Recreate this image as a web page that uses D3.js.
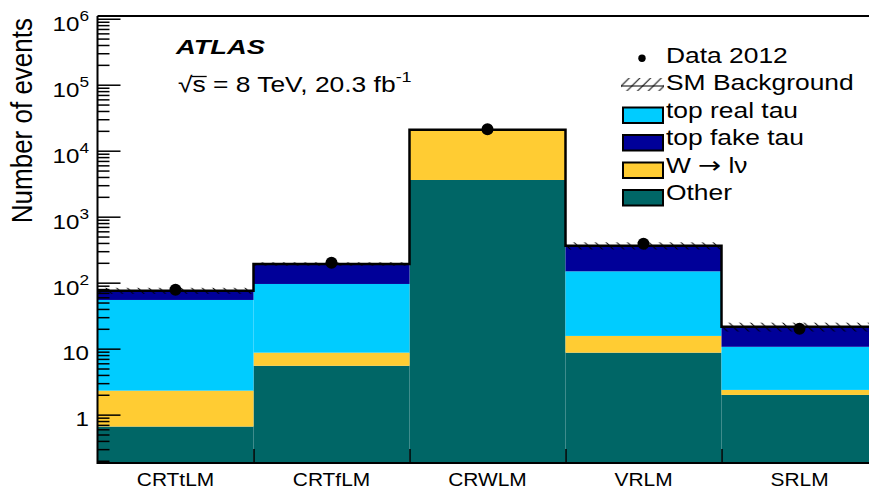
<!DOCTYPE html>
<html>
<head>
<meta charset="utf-8">
<script src="https://cdn.jsdelivr.net/npm/d3@7"></script>
<style>
  html, body { margin: 0; padding: 0; background: #ffffff; }
  svg { display: block; }
  text { font-family: "Liberation Sans", Arial, Helvetica, sans-serif; fill: #000; }
</style>
</head>
<body>
<svg id="chart" width="869" height="493"></svg>
<script>
// regions and stacked background components (events per region)
const categories = ["CRTtLM", "CRTfLM", "CRWLM", "VRLM", "SRLM"];
const otherVals = [0.66, 5.5, 3600, 8.7, 1.99];
const wlnuVals = [1.65, 3.2, 17000, 6.9, 0.38];
const topRealVals = [52.4, 86.9, 60, 133, 8.3];
const topFakeVals = [20.9, 96.4, 30, 215, 10.8];
const dataVals = [78, 200, 21100, 388, 20];
const bkgErr = [8, 12, 400, 45, 3.3];

const yMajorTicks = [1, 10, 100, 1e3, 1e4, 1e5, 1e6];
const yTickBase = ["1", "10", "10", "10", "10", "10", "10"];
const yTickExp = ["", "", "2", "3", "4", "5", "6"];

const stackKeys = ["other", "wlnu", "topReal", "topFake"];
const stackColors = { other: "#006666", wlnu: "#ffcc33", topReal: "#00ccff", topFake: "#000099" };

const legendLabels = ["top real tau", "top fake tau", "W \u2192 l\u03bd", "Other"];
const legendKeys = ["topReal", "topFake", "wlnu", "other"];

const table = categories.map((c, i) => ({
    region: c,
    other: otherVals[i],
    wlnu: wlnuVals[i],
    topReal: topRealVals[i],
    topFake: topFakeVals[i],
    data: dataVals[i],
    err: bkgErr[i]
}));
table.forEach(d => d.total = d.other + d.wlnu + d.topReal + d.topFake);

const pLeft = 97.5, pRight = 877.5, pTop = 16, pBottom = 463;

const svg = d3.select("#chart");

const x = d3.scaleBand().domain(categories).range([pLeft, pRight]).padding(0);
const xEdge = d3.scaleLinear().domain([0, categories.length]).range([pLeft, pRight]);
const y = d3.scaleLog().domain([0.185, 1.1e6]).range([pBottom, pTop]).clamp(true);

const defs = svg.append("defs");
defs.append("clipPath").attr("id", "plotClip")
    .append("rect").attr("x", pLeft).attr("y", pTop).attr("width", pRight - pLeft).attr("height", pBottom - pTop);

const hatch = defs.append("pattern")
    .attr("id", "hatch")
    .attr("patternUnits", "userSpaceOnUse")
    .attr("width", 10.7).attr("height", 10.7);
hatch.append("path")
    .attr("d", "M0,0 L10.7,10.7 M-2,8.7 L2,12.7 M8.7,-2 L12.7,2")
    .attr("stroke", "#000").attr("stroke-width", 1);

// helper: horizontally stretched text, like the original rendering
function addText(parent, px, py, str, size, sx, anchor, weight, style) {
    return parent.append("text")
        .attr("transform", `translate(${px},${py}) scale(${sx},1)`)
        .attr("text-anchor", anchor || "start")
        .attr("font-size", size + "px")
        .attr("font-weight", weight || "normal")
        .attr("font-style", style || "normal")
        .text(str);
}

const plot = svg.append("g").attr("clip-path", "url(#plotClip)");

// stacked fills
const series = d3.stack().keys(stackKeys)(table);
plot.selectAll("g.layer")
    .data(series)
    .enter()
    .append("g")
    .attr("class", "layer")
    .attr("fill", s => stackColors[s.key])
    .selectAll("rect")
    .data(s => s)
    .enter()
    .append("rect")
    .attr("x", d => x(d.data.region))
    .attr("width", x.bandwidth())
    .attr("y", d => y(d[1]))
    .attr("height", d => (d[0] > 0 ? y(d[0]) : pBottom) - y(d[1]));

// SM background uncertainty band
plot.selectAll(".band")
    .data(table)
    .enter()
    .append("rect")
    .attr("class", "band")
    .attr("x", d => x(d.region))
    .attr("width", x.bandwidth())
    .attr("y", d => y(d.total + d.err))
    .attr("height", d => y(d.total - d.err) - y(d.total + d.err))
    .attr("fill", "url(#hatch)");

// total outline
const stepPts = table.map((d, i) => [xEdge(i), y(d.total)]);
stepPts.push([xEdge(table.length), y(table[table.length - 1].total)]);
plot.append("path")
    .attr("d", d3.line().curve(d3.curveStepAfter)(stepPts))
    .attr("fill", "none")
    .attr("stroke", "#000")
    .attr("stroke-width", 2.5);

// data points
svg.selectAll(".dataPt")
    .data(table)
    .enter()
    .append("circle")
    .attr("class", "dataPt")
    .attr("cx", d => x(d.region) + x.bandwidth() / 2)
    .attr("cy", d => y(d.data))
    .attr("r", 6)
    .attr("fill", "#000");

// y axis with major and minor ticks
const minorTicks = [];
for (let k = -1; k <= 5; k++) {
    for (let m = 2; m <= 9; m++) {
        const v = m * Math.pow(10, k);
        if (v >= 0.185 && v <= 1.1e6) minorTicks.push(v);
    }
}
const yAxisG = svg.append("g").attr("transform", `translate(${pLeft},0)`);
yAxisG.append("g")
    .call(d3.axisRight(y).tickValues(minorTicks).tickSize(12).tickFormat(""))
    .call(g => g.select(".domain").remove());
yAxisG.append("g")
    .call(d3.axisRight(y).tickValues(yMajorTicks).tickSize(23).tickFormat(""))
    .call(g => g.select(".domain").remove());
yAxisG.selectAll("line").attr("stroke", "#000").attr("stroke-width", 1.5);

yMajorTicks.forEach((v, i) => {
    const hasExp = yTickExp[i] !== "";
    const t = addText(svg, 89, y(v) + (hasExp ? 12.5 : 11.5), "", 21, 1.15, "end");
    t.append("tspan").text(yTickBase[i]);
    if (hasExp) {
        t.append("tspan").attr("font-size", "15px").attr("dy", -10.5).text(yTickExp[i]);
    }
});

// x axis ticks at region boundaries
const xAxisG = svg.append("g").attr("transform", `translate(0,${pBottom})`);
xAxisG.call(d3.axisTop(xEdge).tickValues(d3.range(1, categories.length)).tickSize(14).tickFormat(""))
    .call(g => g.select(".domain").remove());
xAxisG.selectAll("line").attr("stroke", "#000").attr("stroke-width", 1.5);

categories.forEach(c => {
    addText(svg, x(c) + x.bandwidth() / 2, 486, c, 19, 1.1, "middle");
});

// frame
svg.append("path")
    .attr("d", `M${pLeft},${pTop} H${pRight} M${pLeft},${pTop} V${pBottom} H${pRight}`)
    .attr("fill", "none")
    .attr("stroke", "#000")
    .attr("stroke-width", 2);

// y axis title
svg.append("text")
    .attr("transform", "translate(32,18) rotate(-90) scale(1,1.1)")
    .attr("text-anchor", "end")
    .attr("font-size", "26px")
    .text("Number of events");

// ATLAS label
addText(svg, 176, 54.3, "ATLAS", 21, 1.3, "start", "bold", "italic");

const lumiSx = 1.2;
const lumi = addText(svg, 178, 91.7, "", 22, lumiSx, "start");
lumi.append("tspan").text("\u221as = 8 TeV, 20.3 fb");
lumi.append("tspan").attr("font-size", "15px").attr("dy", -9.5).text("-1");
const lumiNode = lumi.node();
const sStart = lumiNode.getSubStringLength(0, 1);
const sWidth = lumiNode.getSubStringLength(1, 1);
svg.append("line")
    .attr("x1", 178 + sStart * lumiSx - 1)
    .attr("x2", 178 + (sStart + sWidth) * lumiSx + 1)
    .attr("y1", 76.5).attr("y2", 76.5)
    .attr("stroke", "#000").attr("stroke-width", 1.3);

// legend
const legX = 666, legBase = [62.7, 90, 117.5, 145, 172.5, 200];
const legSize = 22, legSx = 1.2;
const leg = svg.append("g");
leg.append("circle").attr("cx", 642).attr("cy", 58.3).attr("r", 3.7).attr("fill", "#000");
addText(leg, legX, legBase[0], "Data 2012", legSize, legSx);

leg.append("rect")
    .attr("x", 621).attr("y", legBase[1] - 12).attr("width", 43).attr("height", 13)
    .attr("fill", "url(#hatch)")
    .attr("transform", `scale(-1,1) translate(${-(2 * 642.5)},0)`);
leg.append("line")
    .attr("x1", 621).attr("x2", 664).attr("y1", legBase[1] - 4).attr("y2", legBase[1] - 4)
    .attr("stroke", "#000").attr("stroke-width", 1.2);
addText(leg, legX, legBase[1], "SM Background", legSize, legSx);

legendKeys.forEach((k, i) => {
    const b = legBase[i + 2];
    leg.append("rect")
        .attr("x", 623).attr("y", b - 10).attr("width", 40).attr("height", 15.5)
        .attr("fill", stackColors[k])
        .attr("stroke", "#000").attr("stroke-width", 2);
    if (k === "wlnu") {
        // W -> l nu with a wider arrow
        const t = addText(leg, legX, b, "", legSize, legSx);
        t.append("tspan").text("W");
        t.append("tspan").attr("dx", 6).attr("font-family", "DejaVu Sans").attr("font-size", "23px").text("\u2192");
        t.append("tspan").attr("dx", 6).text("l\u03bd");
    } else {
        addText(leg, legX, b, legendLabels[i], legSize, legSx);
    }
});
</script>
</body>
</html>
